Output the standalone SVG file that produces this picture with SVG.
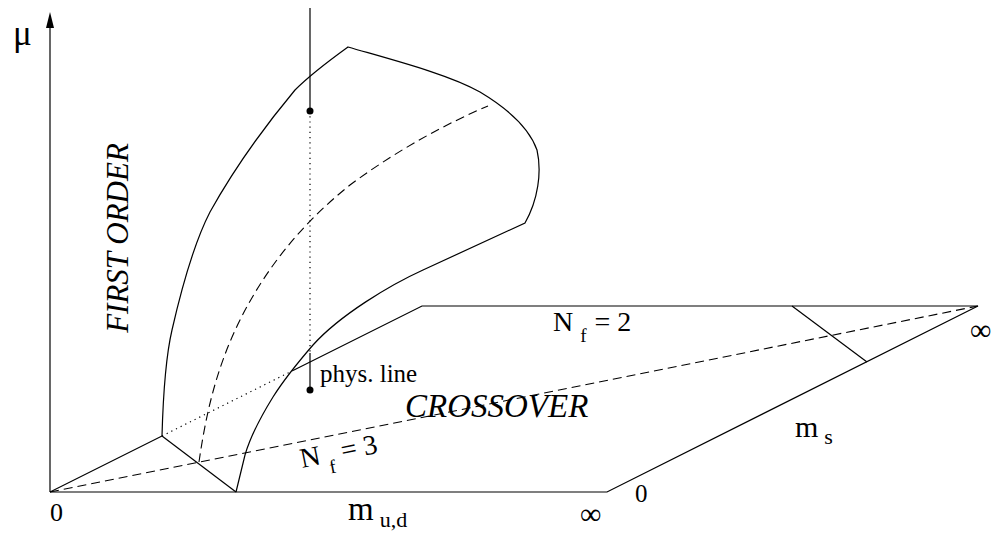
<svg xmlns="http://www.w3.org/2000/svg" width="1006" height="533" viewBox="0 0 1006 533">
<style>
.s{fill:none;stroke:#000;stroke-width:1.2}
.d{fill:none;stroke:#000;stroke-width:1.1;stroke-dasharray:9,5}
.dt{fill:none;stroke:#000;stroke-width:1.2;stroke-dasharray:1.2,4}
.t{font-family:"Liberation Serif",serif;fill:#000}
.i{font-style:italic}
</style>
<rect width="1006" height="533" fill="#fff"/>
<g id="axes">
<line class="s" x1="50" y1="492" x2="50" y2="26"/>
<polygon points="50,12 46,28 54,28" fill="#000"/>
</g>
<g id="plane">
<path class="s" d="M50,492 L607,492 L978,306 L422,306 L293,370.5"/>
<line class="s" x1="50" y1="492" x2="162" y2="436"/>
<line class="dt" x1="162" y1="436" x2="293" y2="370.5"/>
<line class="s" x1="162" y1="436" x2="236" y2="492"/>
<line class="s" x1="792" y1="306" x2="867" y2="362"/>
<line class="d" x1="50" y1="492" x2="978" y2="306"/>
</g>
<g id="surface">
<path class="s" d="M162,436 C163,400 165,360 172,330 C180,295 193,245 210,212 C235,167 270,120 295,90 C310,75 330,60 348,47 C400,62 450,75 480,92 C510,110 530,130 537,150 C542,172 538,200 525,223 L423,270 C390,285 340,315 313,345 C300,360 285,378 273,397 C260,418 250,438 245,455 L236,492"/>
<path class="d" d="M199,462 C205,420 215,370 240,320 C265,270 300,225 350,185 C400,148 450,122 488,106" stroke-dasharray="8,5"/>
</g>
<g id="physline">
<line class="s" x1="310" y1="8" x2="310" y2="111"/>
<line class="dt" x1="310" y1="111" x2="310" y2="353"/>
<line class="s" x1="310" y1="353" x2="310" y2="390"/>
<circle cx="310" cy="111" r="3.5" fill="#000"/>
<circle cx="310" cy="390" r="3.5" fill="#000"/>
</g>
<g id="labels">
<text class="t" x="13" y="45" font-size="35">μ</text>
<text class="t i" transform="translate(128,238) rotate(-90)" text-anchor="middle" font-size="31">FIRST ORDER</text>
<text class="t i" x="405" y="417" font-size="33">CROSSOVER</text>
<text class="t" x="320" y="382" font-size="25">phys. line</text>
<text class="t" x="553" y="331" font-size="28">N<tspan dx="7" dy="11" font-size="19">f</tspan><tspan dx="8" dy="-11">= 2</tspan></text>
<text class="t" transform="translate(302,468) rotate(-11.3)" font-size="28">N<tspan dx="7" dy="11" font-size="19">f</tspan><tspan dx="8" dy="-11">= 3</tspan></text>
<text class="t" x="348" y="520" font-size="33">m<tspan dx="6" dy="7" font-size="22">u,d</tspan></text>
<text class="t" x="795" y="437" font-size="30">m<tspan dx="6" dy="7" font-size="22">s</tspan></text>
<text class="t" x="50" y="521" font-size="26">0</text>
<text class="t" x="635" y="502" font-size="25">0</text>
<text class="t" x="580" y="524" font-size="30">∞</text>
<text class="t" x="970" y="340" font-size="30">∞</text>
</g>
</svg>
